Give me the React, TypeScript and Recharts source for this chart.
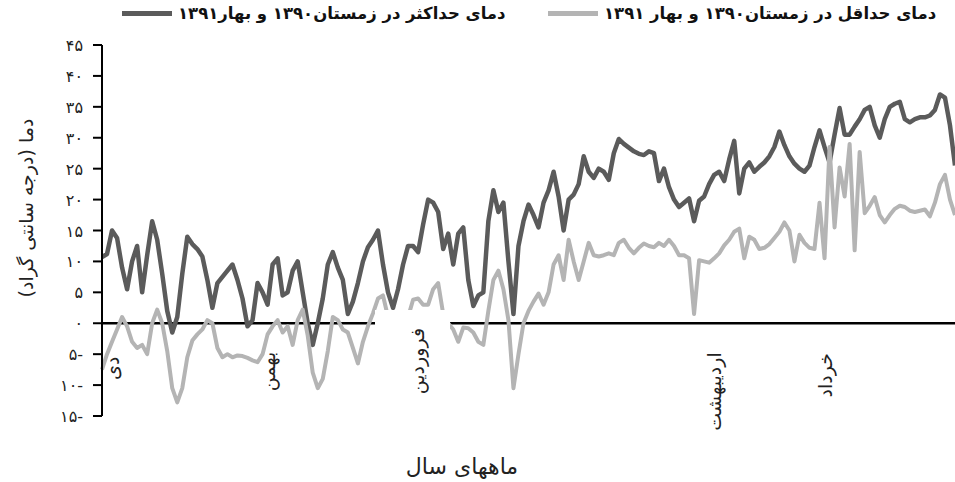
import React from 'react';
import { LineChart, Line, XAxis, YAxis, ReferenceLine, ReferenceDot } from 'recharts';

// daily max temperature (dark line), winter 1390 - spring 1391
const maxTemp = [
  10.7, 11.2, 15, 13.8, 9, 5.5, 10, 12.5, 5, 11,
  16.5, 13.5, 8, 2, -1.5, 1, 8, 14, 12.8, 12,
  10.8, 7, 2.5, 6.5, 7.5, 8.5, 9.5, 7, 4, -0.5,
  0.5, 6.5, 5, 3, 9.5, 10.5, 4.5, 5, 8.5, 10,
  5, 0, -3.5, 0, 4, 9.5, 11.5, 9, 7, 1.5,
  3.5, 6.5, 10, 12.3, 13.5, 15, 9.5, 5, 2.5, 5.5,
  9.5, 12.5, 12.5, 11.5, 16, 20, 19.5, 18, 12, 14.5,
  9.5, 14.5, 15.5, 7, 2.8, 4.5, 5, 16.5, 21.5, 18,
  19.5, 10, 1.5, 12.5, 16.5, 19.2, 17.5, 15.5, 19.5, 21.5,
  24.5, 20.5, 15, 20, 20.8, 22.5, 27, 24.5, 23.5, 25,
  24.5, 23.2, 27.5, 29.8, 29, 28.4, 27.8, 27.4, 27.2, 27.8,
  27.5, 23, 25, 22, 20, 18.8, 19.5, 20.2, 16.5, 19.8,
  20.5, 22.5, 24, 24.5, 23, 26.5, 29.5, 21, 25, 26,
  24.5, 25.3, 26, 27, 28.5, 31, 28.8, 27, 25.8, 25,
  24.5, 25.5, 28.5, 31.2, 28.5, 26, 30.5, 34.8, 30.5, 30.5,
  31.8, 33, 34.5, 35, 32, 30, 33, 35, 35.5, 35.8,
  33, 32.5, 33, 33.3, 33.3, 33.6, 34.5, 37, 36.5, 32,
  25.5,
];

// daily min temperature (light line)
const minTemp = [
  -7.5, -5, -3, -1, 1, -0.5, -3, -4, -3.5, -5,
  0, 2.2, 0, -4.5, -10.5, -12.8, -10.5, -5.5, -2.8, -1.8,
  -1, 0.5, 0, -4, -5.5, -5, -5.5, -5.2, -5.3, -5.6,
  -6, -6.3, -5, -1.8, -0.5, 0.5, -1.5, -0.5, -3.5, 0.5,
  2.2, -2, -8, -10.5, -9, -4.5, 1, 0.5, -1, -1.5,
  -4, -6.5, -3, -0.5, 1.6, 4, 4.5, 1, -1, -2,
  -1, 1, 3.8, 4, 3, 3, 5.5, 6.5, 1.5, 0,
  -1, -3, -0.7, -0.8, -1.5, -3, -3.5, 2, 7, 8.5,
  5.5, 0.5, -10.5, -5, 0, 2, 3.5, 4.8, 3, 5,
  9.5, 11, 7, 13.5, 10, 7, 10, 13, 11, 10.8,
  11, 11.3, 11, 13, 13.5, 12.2, 11.3, 12.2, 12.9, 12.5,
  12.3, 13, 12.5, 13.5, 12.5, 11, 11, 10.5, 1.5, 10.2,
  10, 9.8, 10.5, 11.3, 12.6, 13.5, 14.8, 15.3, 10.5, 14,
  13.5, 12, 12.2, 12.8, 13.8, 14.8, 16.3, 15, 10, 14.3,
  13, 12.2, 12, 19.5, 10.5, 28.5, 15.5, 25.2, 20.5, 29,
  11.8, 27.7, 17.8, 19, 20.4, 17.5, 16.3, 17.5, 18.5, 19,
  18.8, 18.2, 18, 18.2, 18.4, 17.3, 19.5, 22.5, 24, 20,
  17.5,
];

const days = maxTemp.map((_, i) => i + 1);

const monthNames = ['دی', 'بهمن', 'اردیبهشت', 'خرداد'];
const monthDays = [3, 34, 123, 145];
const monthLabelTop = [-5.4, -4.6, -4.7, -4.8];

const yTicks = [-15, -10, -5, 0, 5, 10, 15, 20, 25, 30, 35, 40, 45];

const legendMax = 'دمای حداکثر در زمستان۱۳۹۰ و بهار۱۳۹۱';
const legendMin = 'دمای حداقل در زمستان۱۳۹۰ و بهار ۱۳۹۱';
const yTitle = 'دما (درجه سانتی گراد)';
const xTitle = 'ماههای سال';

const DARK = '#5b5b5b';
const LIGHT = '#b4b4b4';
const FONT = '"DejaVu Sans", sans-serif';

const data = days.map((d, i) => ({ day: d, max: maxTemp[i], min: minTemp[i] }));

const toFa = (n: number) => {
  const s = String(Math.abs(n)).replace(/\d/g, (c) => '۰۱۲۳۴۵۶۷۸۹'[Number(c)]);
  return n < 0 ? s + '-' : s;
};

const YTick = (props: any) => {
  const { x, y, payload } = props;
  return (
    <text x={x} y={y} dy={6} textAnchor="end" fontFamily={FONT} fontSize={16} fill="#222">
      {toFa(payload.value)}
    </text>
  );
};

const monthShape = (name: string) => (props: any) => {
  const { cx, cy } = props;
  return (
    <text
      x={cx}
      y={cy}
      dy={7}
      transform={`rotate(-90 ${cx} ${cy})`}
      textAnchor="end"
      fontFamily={FONT}
      fontSize={19}
      fill="#222"
    >
      {name}
    </text>
  );
};

const LegendItem = ({ left, color, text }: { left: number; color: string; text: string }) => (
  <div style={{ position: 'absolute', left, top: 4, display: 'flex', alignItems: 'center', whiteSpace: 'nowrap' }}>
    <span style={{ display: 'inline-block', width: 50, height: 5, background: color, marginRight: 6 }} />
    <span style={{ direction: 'rtl', fontFamily: FONT, fontWeight: 'bold', fontSize: 16.5, color: '#111' }}>{text}</span>
  </div>
);

export default function App() {
  return (
    <div style={{ position: 'absolute', left: 0, top: 0, width: 955, height: 482, background: '#fff' }}>
      <LineChart width={955} height={482} data={data} margin={{ top: 45, right: 0, bottom: 66, left: 0 }}>
        <XAxis dataKey="day" hide />
        <YAxis
          domain={[-15, 45]}
          ticks={yTicks}
          interval={0}
          width={102}
          tick={<YTick />}
          tickSize={9}
          tickMargin={10}
          axisLine={{ stroke: '#000', strokeWidth: 2 }}
          tickLine={{ stroke: '#000', strokeWidth: 2 }}
        />
        <ReferenceLine y={0} stroke="#000" strokeWidth={2.5} />
        <Line
          dataKey="max"
          stroke={DARK}
          strokeWidth={4.5}
          dot={false}
          type="linear"
          strokeLinejoin="round"
          isAnimationActive={false}
        />
        <Line
          dataKey="min"
          stroke={LIGHT}
          strokeWidth={4}
          dot={false}
          type="linear"
          strokeLinejoin="round"
          isAnimationActive={false}
        />
        {monthNames.map((m, i) => (
          <ReferenceDot key={m} x={monthDays[i]} y={monthLabelTop[i]} r={0} shape={monthShape(m)} />
        ))}
      </LineChart>

      {/* white box behind the Farvardin label, covering the lines as in the source */}
      <svg width={955} height={482} style={{ position: 'absolute', left: 0, top: 0, pointerEvents: 'none' }}>
        <rect x={375} y={310} width={75} height={92} fill="#fff" />
        <text x={417} y={328} dy={7} transform="rotate(-90 417 328)" textAnchor="end" fontFamily={FONT} fontSize={19} fill="#222">
          فروردین
        </text>
        <text x={26} y={208} dy={7} transform="rotate(-90 26 208)" textAnchor="middle" fontFamily={FONT} fontSize={19} fill="#222">
          {yTitle}
        </text>
        <text x={462} y={474} textAnchor="middle" fontFamily={FONT} fontSize={22} fill="#222">
          {xTitle}
        </text>
      </svg>

      <LegendItem left={122} color={DARK} text={legendMax} />
      <LegendItem left={548} color={LIGHT} text={legendMin} />
    </div>
  );
}
